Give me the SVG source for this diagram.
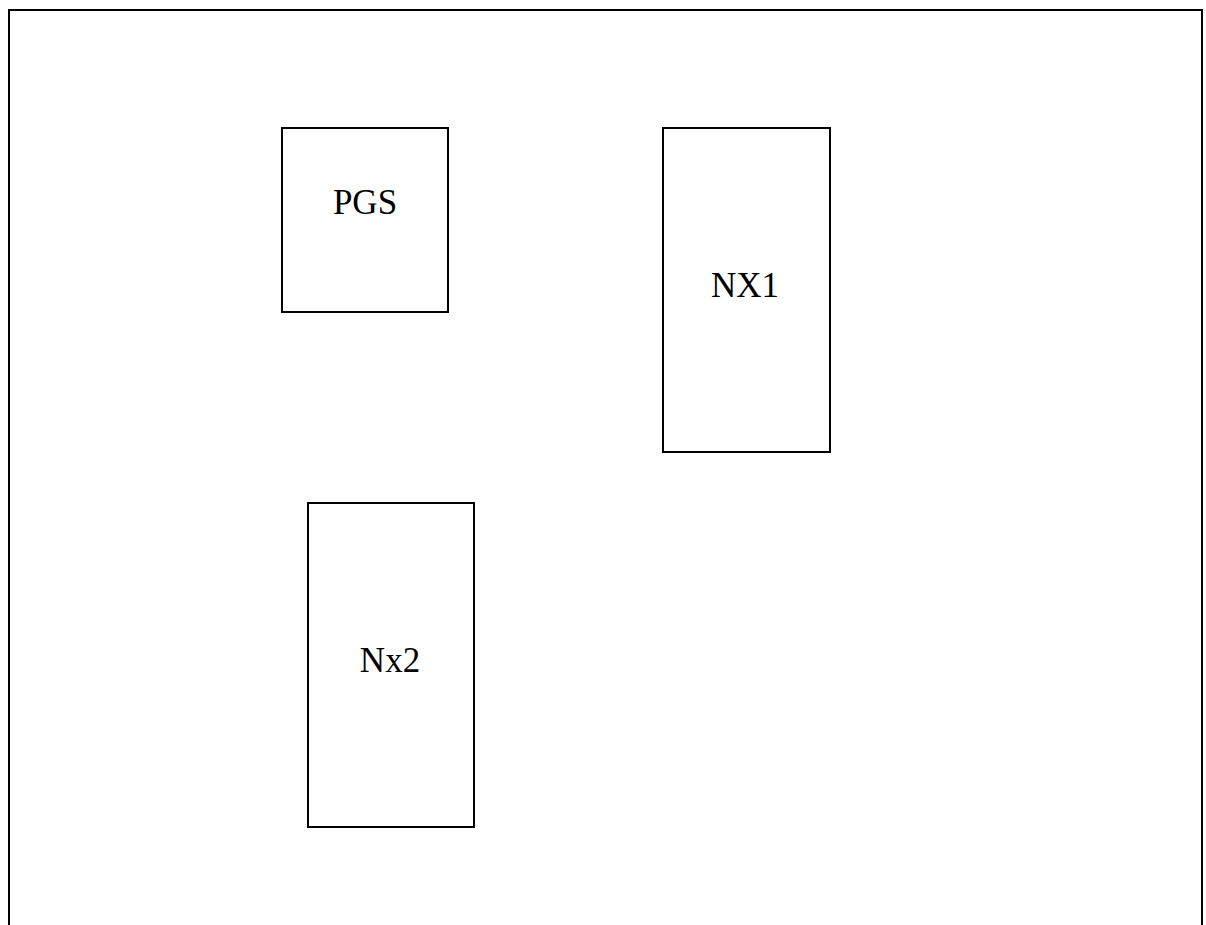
<svg xmlns="http://www.w3.org/2000/svg" width="1206" height="925" viewBox="0 0 1206 925">
<style>
.box{fill:#fff;stroke:#000;stroke-width:2}
.lbl{font-family:"Liberation Serif","Times New Roman",serif;font-size:35px;fill:#000;text-anchor:middle}
</style>
<rect width="1206" height="925" fill="#fff"/>
<path d="M9,940 V10 H1202 V940" fill="none" stroke="#000" stroke-width="2"/>
<g id="connectors"/>
<g id="pgs">
<rect class="box" x="282" y="128" width="166" height="184"/>
<text class="lbl" x="365" y="214">PGS</text>
</g>
<g id="nx1">
<rect class="box" x="663" y="128" width="167" height="324"/>
<text class="lbl" x="745" y="297">NX1</text>
</g>
<g id="nx2">
<rect class="box" x="308" y="503" width="166" height="324"/>
<text class="lbl" x="390" y="672">Nx2</text>
</g>
</svg>
